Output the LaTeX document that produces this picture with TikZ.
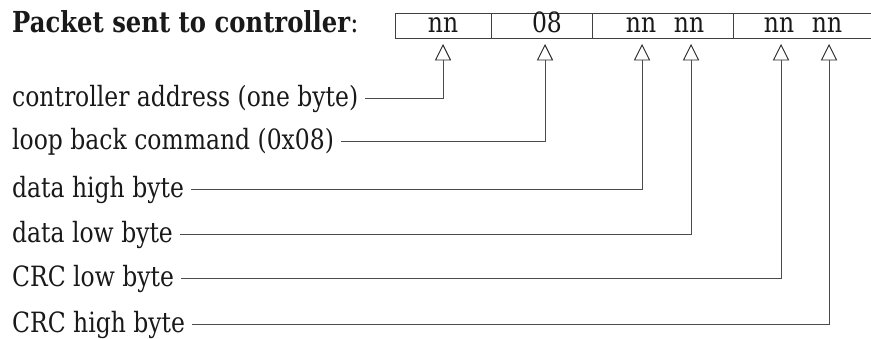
\documentclass[tikz,border=0pt]{standalone}
\usepackage{fontspec}
\setmainfont{DejaVu Serif}[FakeStretch=0.84]
\newlength\reflen
\newlength\reflenb
\begin{document}%
\settowidth{\reflen}{\fontsize{20pt}{24pt}\selectfont controller address (one byte)}%
\settowidth{\reflenb}{\fontsize{20pt}{24pt}\selectfont\bfseries Packet sent to controller}%
\begin{tikzpicture}[x=1pt,y=-1pt]
\pgfmathsetmacro\fs{20*346/\reflen}%
\pgfmathsetmacro\ft{20*338/\reflenb}%
\tikzset{
  txt/.style={font=\fontsize{\fs pt}{\fs pt}\selectfont, text=black!90},
  lab/.style={txt, anchor=west, inner xsep=7pt, inner ysep=0pt, text height=16pt, text depth=0pt},
  cell/.style={txt, anchor=base, inner sep=0pt},
  conn/.style={draw=black!70, line width=0.9pt},
  boxl/.style={draw=black!75, line width=0.9pt},
  tri/.style={draw=black!85, line width=0.9pt, line join=miter},
}
\useasboundingbox (0,0) rectangle (871,338);
% title
\node[anchor=base west, inner sep=0pt, text=black!90, font=\fontsize{\ft pt}{\ft pt}\selectfont] (title) at (12,32) {\textbf{Packet sent to controller}:};
% packet box
\draw[boxl] (871,13) -- (395,13) -- (395,38) -- (871,38);
\draw[boxl] (491,13) -- (491,38);
\draw[boxl] (592,13) -- (592,38);
\draw[boxl] (733,13) -- (733,38);
\node[cell] (c1) at (443,32) {nn};
\node[cell] (c2) at (547,32) {08};
\node[cell] (c3) at (641,32) {nn};
\node[cell] (c4) at (689,32) {nn};
\node[cell] (c5) at (779,32) {nn};
\node[cell] (c6) at (827,32) {nn};
% triangles (base centre coordinates)
\coordinate (t1) at (443,60);
\coordinate (t2) at (545,60);
\coordinate (t3) at (642,60);
\coordinate (t4) at (691,60);
\coordinate (t5) at (781,60);
\coordinate (t6) at (829,60);
\foreach \t in {t1,t2,t3,t4,t5,t6}{
  \draw[tri] (\t) ++(-7.5,0) -- ++(15,0) -- ++(-7.5,-15) -- cycle;
}
% labels
\node[lab] (l1) at (5,98)  {controller address (one byte)};
\node[lab] (l2) at (5,141) {loop back command (0x08)};
\node[lab] (l3) at (5,189) {data high byte};
\node[lab] (l4) at (5,234) {data low byte};
\node[lab] (l5) at (5,278) {CRC low byte};
\node[lab] (l6) at (5,324) {CRC high byte};
% connectors
\draw[conn] (l1.east) -| (t1);
\draw[conn] (l2.east) -| (t2);
\draw[conn] (l3.east) -| (t3);
\draw[conn] (l4.east) -| (t4);
\draw[conn] (l5.east) -| (t5);
\draw[conn] (l6.east) -| (t6);
\end{tikzpicture}%
\end{document}
